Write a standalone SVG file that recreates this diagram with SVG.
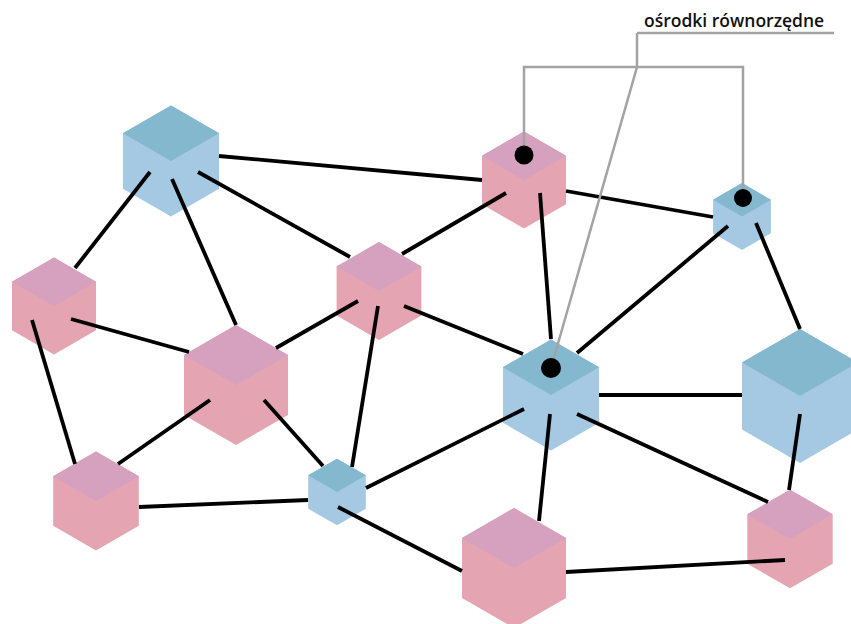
<svg xmlns="http://www.w3.org/2000/svg" width="851" height="624" viewBox="0 0 851 624">
<style>
.ps{fill:#e5a4b1}
.pt{fill:#d6a0bf}
.bs{fill:#a5c9e2}
.bt{fill:#83b8cf}
.ln{stroke:#000;stroke-width:3.8;fill:none;stroke-linecap:butt}
.gl{stroke:#a3a3a3;stroke-width:2.5;fill:none}
.dot{fill:#000}
.lbl{font-family:"Open Sans","Noto Sans",sans-serif;font-weight:600;font-size:17.5px;fill:#111}
</style>
<rect width="851" height="624" fill="#fff"/>
<g id="cube-blue-tl"><polygon class="bs" points="171,105.5 219.1,133.25 219.1,188.75 171,216.5 122.9,188.75 122.9,133.25"/><polygon class="bt" points="171,105.5 219.1,133.25 171,161 122.9,133.25"/></g>
<g id="cube-pink-tc"><polygon class="ps" points="524,131.5 566,155.75 566,204.25 524,228.5 482,204.25 482,155.75"/><polygon class="pt" points="524,131.5 566,155.75 524,180 482,155.75"/></g>
<g id="cube-blue-tr"><polygon class="bs" points="742,183.1 770.9,199.8 770.9,233.2 742,249.9 713.1,233.2 713.1,199.8"/><polygon class="bt" points="742,183.1 770.9,199.8 742,216.5 713.1,199.8"/></g>
<g id="cube-pink-l"><polygon class="ps" points="54,257.5 96,281.75 96,330.25 54,354.5 12,330.25 12,281.75"/><polygon class="pt" points="54,257.5 96,281.75 54,306 12,281.75"/></g>
<g id="cube-pink-c"><polygon class="ps" points="379,242 421.4,266.5 421.4,315.5 379,340 336.6,315.5 336.6,266.5"/><polygon class="pt" points="379,242 421.4,266.5 379,291 336.6,266.5"/></g>
<g id="cube-pink-big-l"><polygon class="ps" points="236,325 288,355 288,415 236,445 184,415 184,355"/><polygon class="pt" points="236,325 288,355 236,385 184,355"/></g>
<g id="cube-blue-c"><polygon class="bs" points="551,339.5 599.1,367.25 599.1,422.75 551,450.5 502.9,422.75 502.9,367.25"/><polygon class="bt" points="551,339.5 599.1,367.25 551,395 502.9,367.25"/></g>
<g id="cube-blue-big-r"><polygon class="bs" points="800,329 858,362.5 858,429.5 800,463 742,429.5 742,362.5"/><polygon class="bt" points="800,329 858,362.5 800,396 742,362.5"/></g>
<g id="cube-pink-bl"><polygon class="ps" points="96,451.6 138.8,476.3 138.8,525.7 96,550.4 53.2,525.7 53.2,476.3"/><polygon class="pt" points="96,451.6 138.8,476.3 96,501 53.2,476.3"/></g>
<g id="cube-blue-b"><polygon class="bs" points="337,458.7 365.8,475.35 365.8,508.65 337,525.3 308.2,508.65 308.2,475.35"/><polygon class="bt" points="337,458.7 365.8,475.35 337,492 308.2,475.35"/></g>
<g id="cube-pink-big-b"><polygon class="ps" points="514,508 566,538 566,598 514,628 462,598 462,538"/><polygon class="pt" points="514,508 566,538 514,568 462,538"/></g>
<g id="cube-pink-br"><polygon class="ps" points="790,489.7 832.7,514.35 832.7,563.65 790,588.3 747.3,563.65 747.3,514.35"/><polygon class="pt" points="790,489.7 832.7,514.35 790,539 747.3,514.35"/></g>
<g id="connectors">
<line class="ln" x1="219" y1="156" x2="482" y2="180"/>
<line class="ln" x1="150" y1="172" x2="75" y2="268"/>
<line class="ln" x1="172" y1="179" x2="236" y2="325"/>
<line class="ln" x1="198" y1="172" x2="350" y2="257"/>
<line class="ln" x1="506" y1="193" x2="402" y2="254"/>
<line class="ln" x1="540" y1="193" x2="551" y2="339"/>
<line class="ln" x1="566" y1="191" x2="713" y2="217"/>
<line class="ln" x1="728" y1="226" x2="577" y2="353"/>
<line class="ln" x1="756" y1="223" x2="800" y2="329"/>
<line class="ln" x1="71" y1="319" x2="189" y2="352"/>
<line class="ln" x1="32" y1="320" x2="75" y2="464"/>
<line class="ln" x1="276" y1="348" x2="358" y2="301"/>
<line class="ln" x1="210" y1="400" x2="118" y2="464"/>
<line class="ln" x1="264" y1="400" x2="323" y2="466"/>
<line class="ln" x1="378" y1="306" x2="352" y2="467"/>
<line class="ln" x1="404" y1="306" x2="523" y2="354"/>
<line class="ln" x1="139" y1="507" x2="308" y2="500"/>
<line class="ln" x1="366" y1="488" x2="524" y2="409"/>
<line class="ln" x1="338" y1="507" x2="462" y2="571"/>
<line class="ln" x1="550" y1="414" x2="539" y2="521"/>
<line class="ln" x1="599" y1="395" x2="742" y2="395"/>
<line class="ln" x1="577" y1="414" x2="768" y2="502"/>
<line class="ln" x1="800" y1="414" x2="789" y2="490"/>
<line class="ln" x1="566" y1="572" x2="785" y2="560"/>
</g>
<g id="label">
<polyline class="gl" points="637,33 834,33"/>
<polyline class="gl" points="524,155 524,67 743,67 743,197"/>
<polyline class="gl" points="637,33 637,67 551,368"/>
<circle class="dot" cx="524" cy="155" r="9.5"/>
<circle class="dot" cx="743" cy="198" r="9"/>
<circle class="dot" cx="551" cy="368" r="10"/>
<text class="lbl" x="644" y="27">ośrodki równorzędne</text>
</g>
</svg>
